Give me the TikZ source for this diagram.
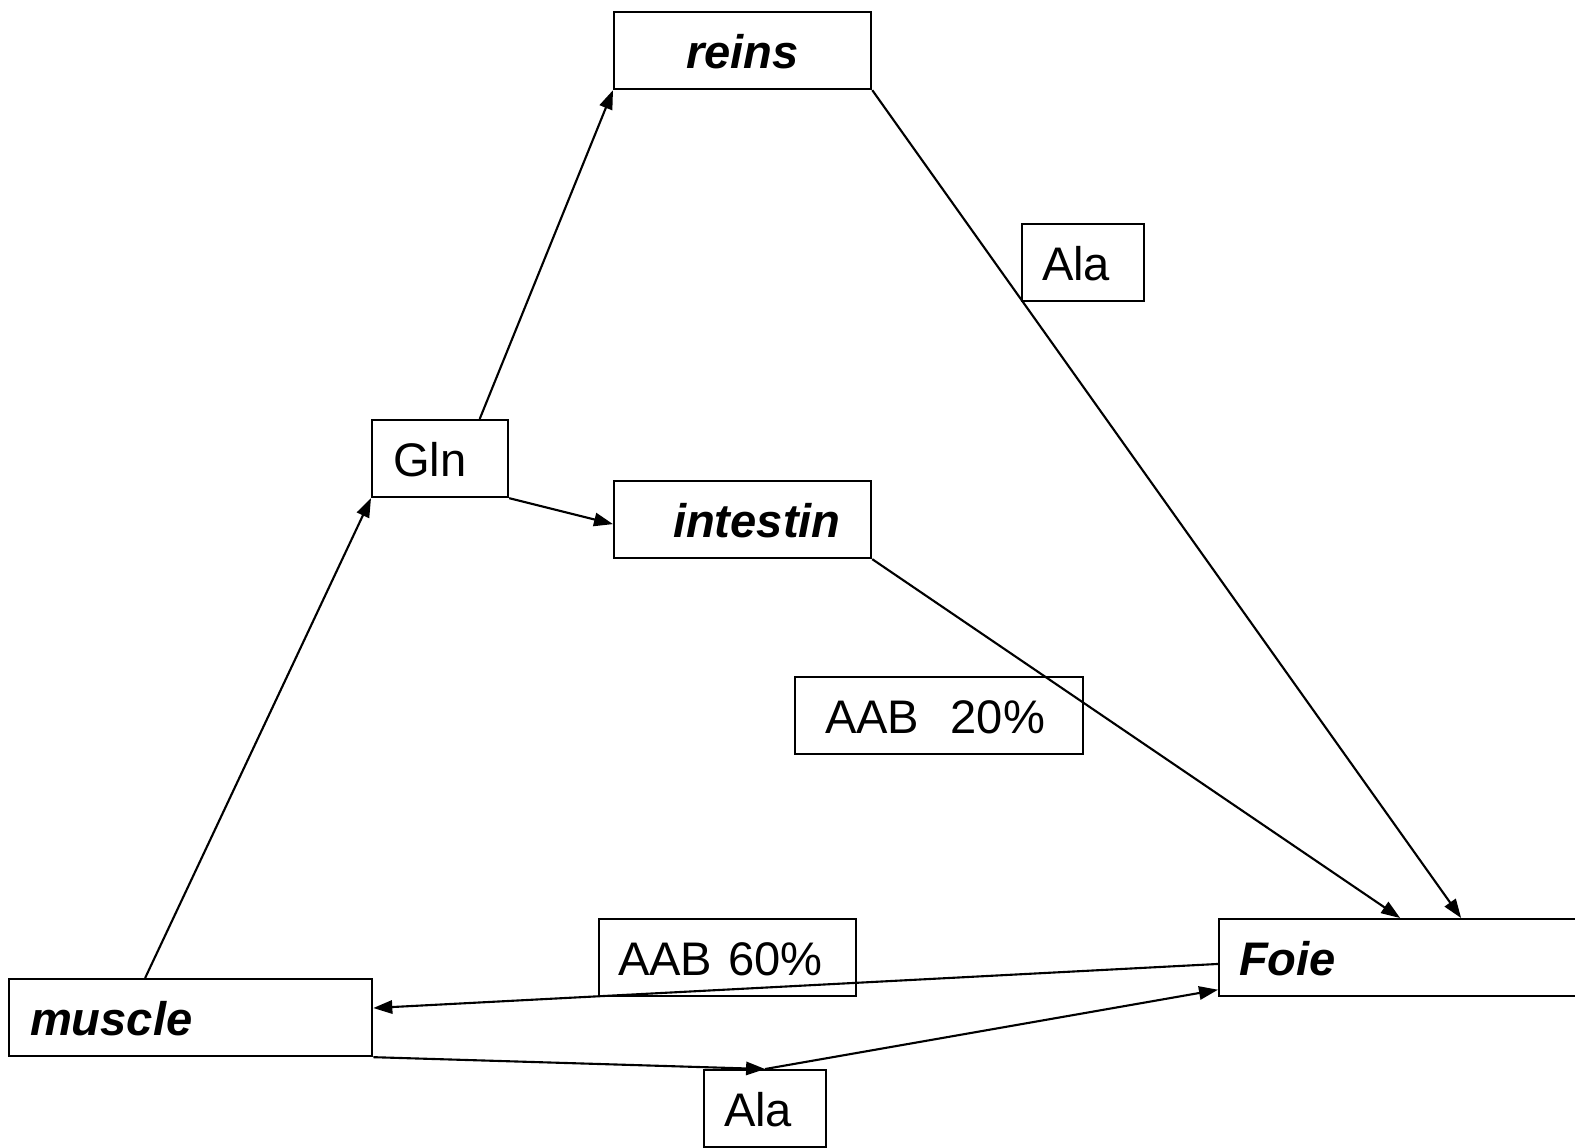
\documentclass[tikz,border=0pt]{standalone}
\usepackage{fontspec}
\setmainfont{Liberation Sans}
\usetikzlibrary{arrows.meta}
\begin{document}
\begin{tikzpicture}[x=0.01cm, y=-0.01cm, line width=0.6pt, >={Triangle[length=5.4pt,width=3.8pt]},
 font=\fontsize{13.4pt}{16pt}\selectfont,
 box/.style={draw, anchor=north west, inner sep=0pt, minimum height=0.77cm, text height=0.35cm, text depth=0pt, align=left},
 organ/.style={box, font=\fontsize{13.4pt}{16pt}\selectfont\bfseries\itshape}]
 \useasboundingbox (0,0) rectangle (1575,1147);
 % organes
 \node[organ, text width=2.57cm, align=center] (reins) at (613,11) {reins};
 \node[organ, text width=2.57cm] (intestin) at (613,480) {\hspace*{0.59cm}intestin};
 \node[organ, text width=3.63cm] (muscle) at (8,978) {\hspace*{0.21cm}muscle};
 \node[organ, text width=3.62cm] (foie) at (1218,918) {\hspace*{0.20cm}Foie};
 % acides amines
 \node[box, text width=1.36cm] (gln) at (371,419) {\hspace*{0.21cm}Gln};
 \node[box, text width=1.22cm] (ala1) at (1021,223) {\hspace*{0.20cm}Ala};
 \node[box, text width=1.22cm] (ala2) at (703,1069) {\hspace*{0.20cm}Ala};
 \node[box, text width=2.88cm] (aab20) at (794,676) {\hspace*{0.30cm}AAB\ \ 20\%};
 \node[box, text width=2.57cm] (aab60) at (598,918) {\hspace*{0.19cm}AAB 60\%};
 % flux
 \draw[->] (muscle.139) -- (gln.south west);
 \draw[->] (gln.45) -- (reins.south west);
 \draw[->] (gln.south east) -- (intestin.182);
 \draw[->] (reins.south east) -- (foie.33);
 \draw[->] (intestin.south east) -- (foie.north);
 \draw[->] (foie.182) -- (muscle.3);
 \draw[->] (muscle.south east) -- (ala2.north);
 \draw[->] (ala2.north) -- (foie.190);
\end{tikzpicture}
\end{document}
